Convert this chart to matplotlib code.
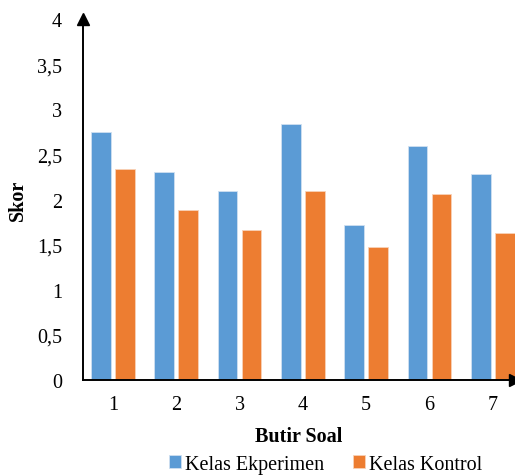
import numpy as np
import matplotlib.pyplot as plt

plt.rcParams['font.family'] = ['Liberation Serif', 'DejaVu Serif']

butir = ['1', '2', '3', '4', '5', '6', '7']
eksperimen = [2.75, 2.31, 2.09, 2.84, 1.72, 2.59, 2.28]
kontrol = [2.34, 1.88, 1.66, 2.09, 1.47, 2.06, 1.63]
yticks = [0, 0.5, 1, 1.5, 2, 2.5, 3, 3.5, 4]

fs = 14.5

fig = plt.figure(figsize=(5.15, 4.77), dpi=100)
ax = fig.add_axes([0.161, 0.201, 0.839, 0.757])

x = np.arange(1, len(butir) + 1)
w = 0.31
ax.bar(x - 0.19, eksperimen, w, color='#5B9BD5', edgecolor='#cfe0f1', linewidth=0.6,
       label='Kelas Ekperimen')
ax.bar(x + 0.19, kontrol, w, color='#ED7D31', edgecolor='#f8d2b8', linewidth=0.6,
       label='Kelas Kontrol')

ax.set_xlim(0.526, 7.35)
ax.set_ylim(0, 4)
ax.set_xticks(x)
ax.set_xticklabels(butir, fontsize=fs)
ax.set_yticks(yticks)
ax.set_yticklabels([('%g' % v).replace('.', ',') for v in yticks], fontsize=fs)
ax.tick_params(axis='both', length=0)
ax.tick_params(axis='y', pad=15)
ax.tick_params(axis='x', pad=11)

for s in ['top', 'right']:
    ax.spines[s].set_visible(False)
for s in ['left', 'bottom']:
    ax.spines[s].set_linewidth(1.4)
    ax.spines[s].set_color('black')

# arrow heads on axes
ax.plot(0, 1.0, marker='^', color='black', markersize=9, transform=ax.transAxes, clip_on=False)
ax.plot(1.0, 0, marker='>', color='black', markersize=9, transform=ax.transAxes, clip_on=False)

ax.set_xlabel('Butir Soal', fontsize=fs, fontweight='bold', labelpad=8)
ax.set_ylabel('Skor', fontsize=fs, fontweight='bold', va='center')
ax.yaxis.set_label_coords(-0.150, 0.5)

fig.legend(loc='center', bbox_to_anchor=(0.632, 0.025), ncol=2, frameon=False, fontsize=fs,
           handlelength=0.6, handleheight=0.6, handletextpad=0.2, columnspacing=1.4)

fig.savefig('out.png', dpi=100)
